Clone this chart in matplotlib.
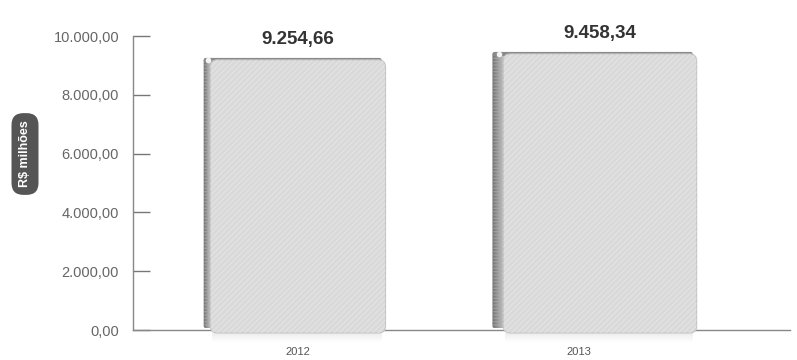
import matplotlib.pyplot as plt
from matplotlib.patches import FancyBboxPatch, Rectangle
from matplotlib.ticker import FuncFormatter

# dados
anos = ["2012", "2013"]
valores = [9254.66, 9458.34]
rotulos = ["9.254,66", "9.458,34"]
yticks = [0, 2000, 4000, 6000, 8000, 10000]

plt.rcParams['font.family'] = ['Liberation Sans Narrow', 'Liberation Sans', 'DejaVu Sans']

fig = plt.figure(figsize=(7.97, 3.6), dpi=100)
ax = fig.add_axes([133 / 797, 30 / 360, 657 / 797, 294 / 360])

pos = [0, 1]
larguras = [0.58, 0.64]
prof = [0.022, 0.036]   # lateral escura (efeito 3d)

bars = ax.bar(pos, valores, width=larguras, color='#dcdcdc', zorder=3)

# conversao px -> unidades de dados
px_x = 1 / 302.0
px_y = 10000 / 294.0
asp = px_y / px_x

for b, d in zip(bars, prof):
    x0, w, h = b.get_x(), b.get_width(), b.get_height()
    b.set_visible(False)
    y0 = -3 * px_y
    # sombra embaixo
    for i in range(9):
        ax.add_patch(Rectangle((x0 + 2 * px_x, y0 - (i + 1) * px_y), w - 6 * px_x, px_y,
                               facecolor='#000000', alpha=0.07 * (1 - i / 9), lw=0,
                               zorder=1, clip_on=False))
    # lateral em degrade
    n = 8
    for i in range(n):
        c = 0.45 + 0.3 * i / (n - 1)
        xi = x0 - d + d * i / n
        ax.add_patch(FancyBboxPatch((xi, y0 + 5 * px_y), d / n + 4 * px_x, h - y0 - 6 * px_y,
                                    boxstyle='round,pad=0,rounding_size=%f' % (2 * px_x),
                                    mutation_aspect=asp,
                                    facecolor=(c, c, c), edgecolor='none', lw=0,
                                    zorder=2, clip_on=False))
    ax.add_patch(Rectangle((x0 - d, y0 + 5 * px_y), d, h - y0 - 6 * px_y,
                           facecolor='none', edgecolor='#b0b0b0', lw=0,
                           hatch='-----', alpha=0.5, zorder=2, clip_on=False))
    # topo
    ax.add_patch(FancyBboxPatch((x0 - d, h - 4 * px_y), w + d - 4 * px_x, 4 * px_y,
                                boxstyle='round,pad=0,rounding_size=%f' % (2 * px_x),
                                mutation_aspect=asp,
                                facecolor='#8a8a8a', edgecolor='none', zorder=2, clip_on=False))
    # face
    ax.add_patch(FancyBboxPatch((x0, y0), w, h - y0 - 2 * px_y,
                                boxstyle='round,pad=0,rounding_size=%f' % (7 * px_x),
                                mutation_aspect=asp,
                                facecolor='#d9d9d9', edgecolor='#c4c4c4', lw=0.8,
                                zorder=3, clip_on=False))
    ax.add_patch(FancyBboxPatch((x0, y0), w, h - y0 - 2 * px_y,
                                boxstyle='round,pad=0,rounding_size=%f' % (7 * px_x),
                                mutation_aspect=asp,
                                facecolor='none', edgecolor='#ececec', lw=0,
                                hatch='//////', alpha=0.5, zorder=4, clip_on=False))
    # brilho no canto
    ax.plot([x0 - d * 0.4], [h - 2 * px_y], 'o', ms=4, color='#f4f4f4', mec='none',
            zorder=5, clip_on=False)

for p, v, t in zip(pos, valores, rotulos):
    ax.text(p, v + 620, t, ha='center', va='center', fontsize=13.5,
            fontweight='bold', color='#333333', family=['Liberation Sans', 'DejaVu Sans'],
            zorder=5)

ax.set_xlim(-0.546, 1.629)
ax.set_ylim(0, 10000)
ax.set_yticks(yticks)
ax.yaxis.set_major_formatter(FuncFormatter(
    lambda v, _: f"{v:,.2f}".replace(",", "X").replace(".", ",").replace("X", ".")))
ax.tick_params(axis='y', direction='in', length=12, width=1, color='#777777',
               labelcolor='#666666', labelsize=10.5, pad=10)
ax.set_xticks([0, 0.93])
ax.set_xticklabels(anos)
ax.tick_params(axis='x', length=0, labelsize=8, labelcolor='#555555', pad=12)

for s in ['top', 'right']:
    ax.spines[s].set_visible(False)
for s in ['left', 'bottom']:
    ax.spines[s].set_color('#888888')
    ax.spines[s].set_linewidth(1)

fig.text(25 / 797, 1 - 154 / 360, "R$ milhões", rotation=90, ha='center', va='center',
         color='white', fontsize=9, fontweight='bold',
         bbox=dict(boxstyle='round,pad=0.6,rounding_size=0.95', fc='#555555', ec='none'))

fig.savefig('out.png', dpi=100)
